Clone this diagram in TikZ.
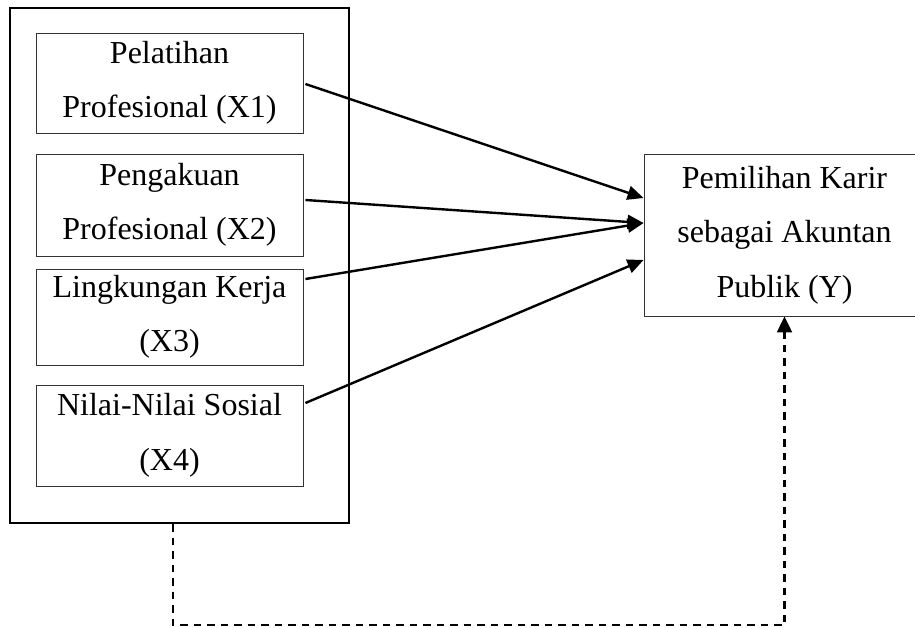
\documentclass[tikz,border=0pt]{standalone}
\usepackage{fontspec}
\setmainfont{Liberation Serif}
\usetikzlibrary{arrows.meta,positioning,calc}

\begin{document}
\begin{tikzpicture}[x=1pt,y=-1pt,
    varbox/.style={draw=black!80,line width=0.9pt,minimum width=267pt,inner sep=0pt,
      align=center,font=\fontsize{32}{54.5}\selectfont},
    arr/.style={line width=2.4pt,-{Triangle[length=16pt,width=14pt]}},
    dasharr/.style={line width=2.2pt,dash pattern=on 7.5pt off 6pt,-{Triangle[length=16pt,width=15pt]}}]
      \useasboundingbox (0,0) rectangle (915,628);
      \node[draw,line width=2pt,minimum width=339pt,minimum height=515pt] (frame) at (179.5,265.5) {};
      \node[varbox,minimum height=100pt] (x1) at (169.5,83) {Pelatihan\\Profesional (X1)};
      \node[varbox,minimum height=102pt] (x2) at (169.5,205) {Pengakuan\\Profesional (X2)};
      \node[varbox,minimum height=96pt] (x3) at (169.5,317) {Lingkungan Kerja\\(X3)};
      \node[varbox,minimum height=101pt] (x4) at (169.5,435.5) {Nilai-Nilai Sosial\\(X4)};
      \node[varbox,minimum width=281pt,minimum height=162pt] (y) at (784.5,235) {Pemilihan Karir\\sebagai Akuntan\\Publik (Y)};
      \draw[arr] ([shift={(2pt,-1pt)}]x1.east) -- ([yshift=37pt]y.west);
      \draw[arr] ([shift={(2pt,5pt)}]x2.east) -- ([yshift=12pt]y.west);
      \draw[arr] ([shift={(2pt,38pt)}]x3.east) -- ([yshift=12pt]y.west);
      \draw[arr] ([shift={(2pt,32.5pt)}]x4.east) -- ([yshift=-25pt]y.west);
      \draw[dasharr] ([xshift=-6.5pt]frame.south) -- ++(0,101) -| (y.south);
\end{tikzpicture}
\end{document}
